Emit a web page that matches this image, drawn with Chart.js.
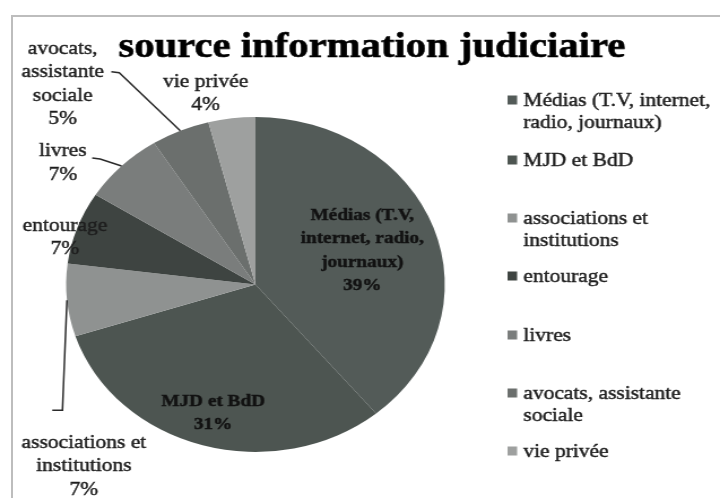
<!DOCTYPE html>
<html>
<head>
<meta charset="utf-8">
<script src="https://cdn.jsdelivr.net/npm/chart.js@4.4.1/dist/chart.umd.min.js"></script>
<style>
  html, body { margin: 0; padding: 0; background: #fff; }
  #wrap { position: relative; width: 720px; height: 498px; overflow: hidden; }
  #frame { position: absolute; left: 11px; top: 15px; width: 760px; height: 540px; border: 2px solid #bdbdbd; box-sizing: border-box; }
  #chart { position: absolute; left: 0; top: 0; }
</style>
</head>
<body>
<div id="wrap">
  <div id="frame"></div>
  <!-- drawn narrower and stretched, the scan is wider than tall -->
  <canvas id="chart" width="637" height="498" style="width:720px;height:498px"></canvas>
</div>
<script>
const chartTitle = "source information judiciaire";
const categories = [
  "Médias (T.V, internet, radio, journaux)",
  "MJD et BdD",
  "associations et institutions",
  "entourage",
  "livres",
  "avocats, assistante sociale",
  "vie privée"
];
const shares = [39, 31, 7, 7, 7, 5, 4];

// how the names are broken into lines
const legendLines = [
  ["Médias (T.V, internet,", "radio, journaux)"],
  ["MJD et BdD"],
  ["associations et", "institutions"],
  ["entourage"],
  ["livres"],
  ["avocats, assistante", "sociale"],
  ["vie privée"]
];
const sliceLines = [
  ["Médias (T.V,", "internet, radio,", "journaux)"],
  ["MJD et BdD"],
  ["associations et", "institutions"],
  ["entourage"],
  ["livres"],
  ["avocats,", "assistante", "sociale"],
  ["vie privée"]
];

const colors = ["#535b58", "#4d5551", "#8f9291", "#3e4441", "#7a7d7c", "#6b6f6d", "#9ea09f"];

// label placement: inside at a fraction of the radius, outside as offset from the rim
const placement = [
  { inside: true, f: 0.6 },
  { inside: true, f: 0.8 },
  { dx: 15, dy: 166, leader: [[-4, 110], [-13, 110]] },
  { dx: -11, dy: 10 },
  { dx: -52, dy: -3, leader: [[-19, -7], [-26, -8]] },
  { dx: -104, dy: -47, leader: [[-54, -58], [-61, -59]] },
  { dx: -23, dy: -25 }
];
const legendY = [101, 161, 219, 277, 336, 394, 452];

const SERIF = "'Liberation Serif', 'DejaVu Serif', serif";

// fill plus a hair of stroke, the scanned text is heavier
function heavyText(ctx, t, x, y, w) {
  ctx.fillText(t, x, y);
  ctx.lineWidth = w;
  ctx.strokeStyle = ctx.fillStyle;
  ctx.strokeText(t, x, y);
}

const decorPlugin = {
  id: "decor",
  afterDatasetsDraw(chart) {
    const ctx = chart.ctx;
    const arcs = chart.getDatasetMeta(0).data;
    ctx.save();
    ctx.textAlign = "center";
    ctx.textBaseline = "middle";

    arcs.forEach((arc, i) => {
      const p = placement[i];
      const lines = sliceLines[i].concat([shares[i] + "%"]);
      const mid = (arc.startAngle + arc.endAngle) / 2;
      let cx, cy, lh;
      if (p.inside) {
        cx = arc.x + Math.cos(mid) * arc.outerRadius * p.f;
        cy = arc.y + Math.sin(mid) * arc.outerRadius * p.f;
        ctx.font = "bold 17px " + SERIF;
        ctx.fillStyle = "#121212";
        lh = 23.5;
      } else {
        const ex = arc.x + Math.cos(mid) * arc.outerRadius;
        const ey = arc.y + Math.sin(mid) * arc.outerRadius;
        cx = ex + p.dx;
        cy = ey + p.dy;
        if (p.leader) {
          ctx.beginPath();
          ctx.moveTo(ex, ey);
          p.leader.forEach(pt => ctx.lineTo(ex + pt[0], ey + pt[1]));
          ctx.strokeStyle = "#2a2a2a";
          ctx.lineWidth = 1.5;
          ctx.stroke();
        }
        ctx.font = "19px " + SERIF;
        ctx.fillStyle = "#1e1e1e";
        lh = 23.5;
      }
      const top = cy - (lines.length - 1) * lh / 2;
      lines.forEach((t, k) => heavyText(ctx, t, cx, top + k * lh, 0.45));
    });

    // title
    ctx.font = "bold 36px " + SERIF;
    ctx.fillStyle = "#000";
    heavyText(ctx, chartTitle, 329, 48, 0.6);

    // legend
    ctx.textAlign = "left";
    ctx.font = "19px " + SERIF;
    categories.forEach((c, i) => {
      ctx.fillStyle = colors[i];
      ctx.fillRect(449, legendY[i] - 5.5, 8.5, 9);
      ctx.fillStyle = "#1e1e1e";
      legendLines[i].forEach((t, k) => heavyText(ctx, t, 463, legendY[i] + k * 22.5, 0.45));
    });
    ctx.restore();
  }
};

new Chart(document.getElementById("chart"), {
  type: "pie",
  data: {
    labels: categories,
    datasets: [{
      data: shares,
      backgroundColor: colors,
      borderWidth: 0
    }]
  },
  options: {
    responsive: false,
    animation: false,
    layout: { padding: { left: 58.5, top: 117, right: 243.5, bottom: 46 } },
    plugins: {
      legend: { display: false },
      tooltip: { enabled: false },
      title: { display: false }
    }
  },
  plugins: [decorPlugin]
});
</script>
</body>
</html>
